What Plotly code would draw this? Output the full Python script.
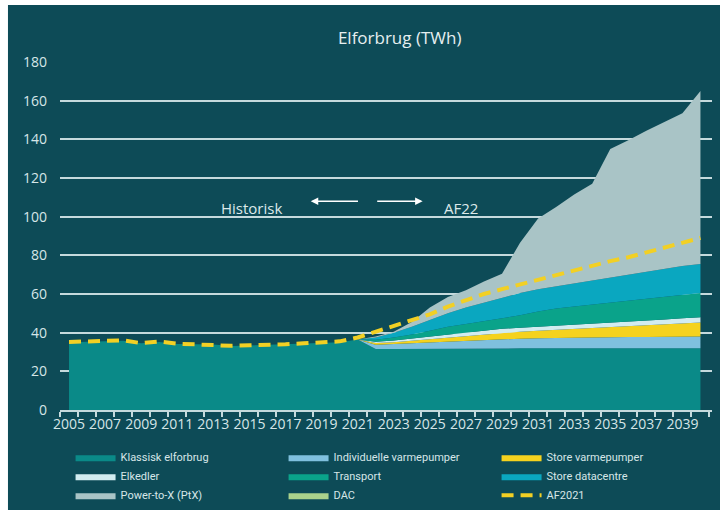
import plotly.graph_objects as go

years = list(range(2005, 2041))

# Historical + projected layers (TWh)
klassisk = [35.0, 35.2, 35.4, 35.8, 34.5, 35.2, 34.2, 33.9, 33.9, 33.1, 33.4, 33.5, 33.9, 34.4, 34.6, 35.0, 36.5,
            31.5, 31.5, 31.6, 31.6, 31.7, 31.7, 31.8, 31.8, 31.9, 31.9, 32.0, 32.0, 32.0, 32.0, 32.0, 32.0, 32.0, 32.0, 32.0]
hist_zero = [0.0] * 17
indiv_vp = hist_zero + [2.3, 2.7, 3.0, 3.4, 3.8, 4.3, 4.5, 4.8, 5.0, 5.2, 5.3, 5.4, 5.5, 5.6, 5.7, 5.8, 5.9, 6.0, 6.0]
store_vp = hist_zero + [0.8, 0.8, 1.2, 1.5, 2.0, 2.3, 2.7, 3.4, 3.6, 3.9, 4.2, 4.6, 4.8, 5.1, 5.5, 5.9, 6.3, 6.7, 7.3]
elkedler = hist_zero + [0.7, 1.0, 1.2, 1.5, 1.5, 1.7, 2.0, 2.0, 2.0, 2.0, 2.0, 2.0, 2.2, 2.3, 2.3, 2.5, 2.6, 2.7, 2.7]
transport = hist_zero + [1.0, 1.5, 2.0, 3.0, 4.0, 4.5, 5.0, 5.5, 6.5, 8.0, 9.0, 9.5, 10.0, 10.5, 11.0, 11.3, 11.7, 12.1, 12.5]
datacentre = hist_zero + [1.2, 2.5, 4.0, 5.5, 7.0, 8.5, 9.5, 10.5, 11.5, 11.5, 11.5, 12.0, 12.5, 13.0, 13.5, 14.0, 14.5, 15.0, 15.0]
ptx = hist_zero + [0.5, 0.5, 2.5, 6.5, 8.5, 9.0, 11.0, 12.5, 26.0, 36.5, 41.0, 46.0, 50.0, 66.5, 69.5, 73.0, 76.0, 79.0, 89.5]
dac = hist_zero + [0.0] * 19
af2021 = [35.2, 35.4, 35.5, 36.0, 34.6, 35.4, 34.3, 34.0, 34.0, 33.2, 33.5, 33.6, 34.0, 34.5, 34.8, 35.5, 37.5,
          40.5, 43.0, 46.0, 49.5, 53.5, 57.0, 60.0, 62.5, 65.0, 67.5, 70.0, 72.5, 75.0, 77.0, 79.0, 81.5, 84.0, 86.5, 89.0]

series = [
    ("Klassisk elforbrug", klassisk, "#0a8a88"),
    ("Individuelle varmepumper", indiv_vp, "#7fc0de"),
    ("Store varmepumper", store_vp, "#f5d21e"),
    ("Elkedler", elkedler, "#d2ecf0"),
    ("Transport", transport, "#0aa38a"),
    ("Store datacentre", datacentre, "#0aa7c0"),
    ("Power-to-X (PtX)", ptx, "#a9c4c6"),
    ("DAC", dac, "#aad28c"),
]

xtick_vals = list(range(2005, 2040, 2))
xtick_text = [str(y) for y in xtick_vals]
ytick_vals = list(range(0, 181, 20))

BG = "#0d4b57"
TXT = "#d6e6e8"
GRID = "#c5dadd"

fig = go.Figure()
for name, vals, col in series:
    fig.add_trace(go.Scatter(
        x=years, y=vals, name=name, mode="lines", stackgroup="one",
        line=dict(width=0, color=col), fillcolor=col,
    ))
fig.add_trace(go.Scatter(
    x=years, y=af2021, name="AF2021", mode="lines",
    line=dict(color="#f2d024", width=4, dash="12px,7px"),
))

fig.update_layout(
    width=720, height=510,
    margin=dict(l=60, r=8, t=62, b=100, autoexpand=False),
    paper_bgcolor=BG,
    plot_bgcolor=BG,
    font=dict(family="Open Sans, sans-serif", color=TXT, size=14),
    title=dict(text="Elforbrug (TWh)", xref="paper", x=0.521, xanchor="center",
               yref="container", y=0.925, yanchor="middle",
               font=dict(size=17, color="#e6eff0", family="Open Sans, sans-serif")),
    shapes=[
        dict(type="rect", xref="paper", yref="paper", x0=-0.2, x1=-0.0798, y0=-0.5, y1=1.5,
             fillcolor="white", line=dict(width=0), layer="above"),
        dict(type="rect", xref="paper", yref="paper", x0=-0.2, x1=1.2, y0=1.1638, y1=1.5,
             fillcolor="white", line=dict(width=0), layer="above"),
    ],
    legend=dict(orientation="h", xref="container", x=0.098, xanchor="left",
                yref="container", y=0.132, yanchor="top",
                entrywidth=158, entrywidthmode="pixels", traceorder="normal",
                font=dict(size=11, color=TXT, family="Liberation Sans Narrow, Roboto, sans-serif"),
                bgcolor="rgba(0,0,0,0)", itemwidth=40, tracegroupgap=0),
    showlegend=True,
)
fig.update_xaxes(
    range=[2004.5, 2040.64], tickmode="array", tickvals=xtick_vals, ticktext=xtick_text,
    ticks="", showgrid=False, zeroline=False, showline=True, linecolor=GRID, linewidth=2,
    tickfont=dict(size=14, color=TXT),
    minor=dict(ticks="outside", tickmode="linear", tick0=2004.5, dtick=1, ticklen=5,
               tickcolor=GRID, tickwidth=1.5, showgrid=False),
)
fig.update_yaxes(
    range=[0, 180], tickmode="array", tickvals=ytick_vals, showgrid=True, gridcolor=GRID,
    gridwidth=2, zeroline=False, showline=False, ticks="", ticklabelstandoff=12,
    tickfont=dict(size=14, color=TXT),
)

# Annotations: Historisk / AF22 with arrows
fig.add_annotation(x=2015.1, y=104.5, text="Historisk", showarrow=False,
                   font=dict(size=15, color="#dde9ea"), xanchor="center", yanchor="middle")
fig.add_annotation(x=2026.7, y=104.5, text="AF22", showarrow=False,
                   font=dict(size=15, color="#dde9ea"), xanchor="center", yanchor="middle")
fig.add_annotation(x=2018.4, y=108, ax=2021.1, ay=108, axref="x", ayref="y", xref="x", yref="y",
                   text="", showarrow=True, arrowhead=2, arrowsize=1, arrowwidth=1.5, arrowcolor="white")
fig.add_annotation(x=2024.6, y=108, ax=2022.0, ay=108, axref="x", ayref="y", xref="x", yref="y",
                   text="", showarrow=True, arrowhead=2, arrowsize=1, arrowwidth=1.5, arrowcolor="white")

fig.write_html("out.html")
